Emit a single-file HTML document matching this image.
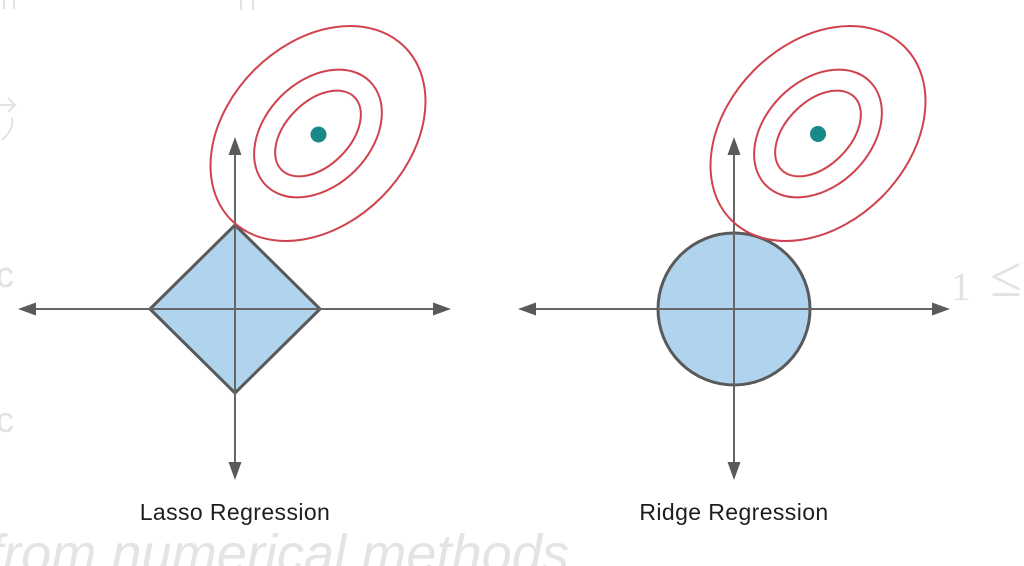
<!DOCTYPE html>
<html>
<head>
<meta charset="utf-8">
<style>
  html, body { margin:0; padding:0; background:#fff; }
  body { width:1024px; height:566px; overflow:hidden; }
  svg { display:block; }
</style>
</head>
<body>
<svg width="1024" height="566" viewBox="0 0 1024 566" xmlns="http://www.w3.org/2000/svg">
  <rect width="1024" height="566" fill="#ffffff"/>

  <!-- faint background text -->
  <g fill="none" stroke="#e2e2e2" stroke-width="2">
    <line x1="4" y1="0" x2="4" y2="9"/>
    <line x1="14" y1="0" x2="14" y2="9"/>
    <line x1="241" y1="0" x2="241" y2="10"/>
    <line x1="253" y1="0" x2="253" y2="10"/>
    <path d="M0 105 L14 105 M8 98 L15 105 L8 112"/>
    <path d="M12 118 Q14 130 2 140"/>
  </g>
  <text x="-4" y="287" font-family="Liberation Sans, sans-serif" font-size="36" fill="#e2e2e2">c</text>
  <text x="-4" y="432" font-family="Liberation Sans, sans-serif" font-size="36" fill="#e2e2e2">c</text>
  <text x="951" y="300" font-family="Liberation Serif, serif" font-size="40" fill="#e2e2e2">1</text>
  <text x="990" y="296" font-family="Liberation Serif, serif" font-size="58" fill="#e2e2e2">≤</text>
  <text x="-12" y="572" font-family="Liberation Sans, sans-serif" font-style="italic" font-size="54" fill="#e4e4e4" textLength="596" lengthAdjust="spacingAndGlyphs">from numerical methods.</text>

  <!-- LEFT PANEL -->
  <polygon points="235,225 320,309 235,393 150,309" fill="#b1d4ee" stroke="#58595b" stroke-width="3" stroke-linejoin="round"/>
  <g stroke="#666" stroke-width="2">
    <line x1="235" y1="152" x2="235" y2="465"/>
    <line x1="34" y1="309" x2="435" y2="309"/>
  </g>
  <g fill="#5a5a5a">
    <polygon points="235,137 228.5,155 241.5,155"/>
    <polygon points="235,480 228.5,462 241.5,462"/>
    <polygon points="18,309 36,302.5 36,315.5"/>
    <polygon points="451,309 433,302.5 433,315.5"/>
  </g>
  <g fill="none" stroke="#d0434e" stroke-width="2" transform="translate(318,133.5) rotate(-45)">
    <ellipse cx="0" cy="0" rx="122.5" ry="90"/>
    <ellipse cx="0" cy="0" rx="73.5" ry="52.5"/>
    <ellipse cx="0" cy="0" rx="51.5" ry="32"/>
  </g>
  <circle cx="318.5" cy="134.5" r="8" fill="#188888"/>
  <text x="235" y="520" text-anchor="middle" font-family="Liberation Sans, sans-serif" font-size="23" letter-spacing="0.4" fill="#1e1e1e">Lasso Regression</text>

  <!-- RIGHT PANEL -->
  <circle cx="734" cy="309" r="76" fill="#b1d4ee" stroke="#58595b" stroke-width="3"/>
  <g stroke="#666" stroke-width="2">
    <line x1="734" y1="152" x2="734" y2="465"/>
    <line x1="534" y1="309" x2="934" y2="309"/>
  </g>
  <g fill="#5a5a5a">
    <polygon points="734,137 727.5,155 740.5,155"/>
    <polygon points="734,480 727.5,462 740.5,462"/>
    <polygon points="518,309 536,302.5 536,315.5"/>
    <polygon points="950,309 932,302.5 932,315.5"/>
  </g>
  <g fill="none" stroke="#d0434e" stroke-width="2" transform="translate(818,133.5) rotate(-45)">
    <ellipse cx="0" cy="0" rx="122.5" ry="90"/>
    <ellipse cx="0" cy="0" rx="73.5" ry="52.5"/>
    <ellipse cx="0" cy="0" rx="51.5" ry="32"/>
  </g>
  <circle cx="818" cy="134" r="8" fill="#188888"/>
  <text x="734" y="520" text-anchor="middle" font-family="Liberation Sans, sans-serif" font-size="23" letter-spacing="0.4" fill="#1e1e1e">Ridge Regression</text>
</svg>
</body>
</html>
